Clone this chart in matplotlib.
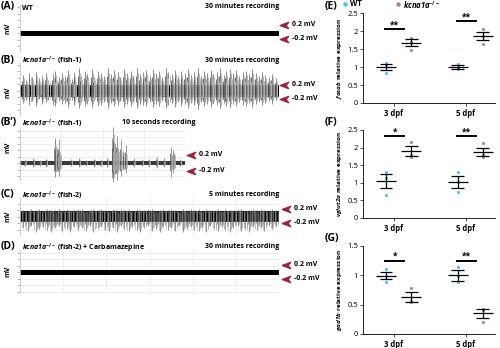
import matplotlib
matplotlib.use('Agg')
import matplotlib.pyplot as plt
from matplotlib.path import Path
from matplotlib.ticker import MultipleLocator

plt.rcParams['font.family'] = ['Open Sans', 'DejaVu Sans']
plt.rcParams['mathtext.fontset'] = 'custom'
plt.rcParams['mathtext.rm'] = 'Open Sans'
plt.rcParams['mathtext.it'] = 'Open Sans:italic'
plt.rcParams['mathtext.bf'] = 'Open Sans:bold'
plt.rcParams['mathtext.bfit'] = 'Open Sans:italic:bold'

# ---------------- qPCR data ----------------
days = ['3 dpf', '5 dpf']

fosab_wt = [[1.11, 1.05, 0.84], [1.08, 0.98, 0.95]]
fosab_mut = [[1.81, 1.70, 1.48], [2.06, 1.87, 1.65]]
fosab_wt_mean, fosab_wt_sem = [1.00, 1.00], [0.08, 0.06]
fosab_mut_mean, fosab_mut_sem = [1.67, 1.86], [0.095, 0.12]
fosab_sig = ['**', '**']
fosab_sig_y = [2.05, 2.27]

vglut_wt = [[1.32, 1.15, 0.66], [1.30, 1.03, 0.74]]
vglut_mut = [[2.16, 1.80, 1.72], [2.12, 1.78, 1.72]]
vglut_wt_mean, vglut_wt_sem = [1.04, 1.02], [0.20, 0.17]
vglut_mut_mean, vglut_mut_sem = [1.90, 1.87], [0.14, 0.12]
vglut_sig = ['*', '**']
vglut_sig_y = [2.32, 2.32]

gad_wt = [[1.10, 0.99, 0.89], [1.15, 0.99, 0.88]]
gad_mut = [[0.79, 0.56, 0.54], [0.42, 0.41, 0.21]]
gad_wt_mean, gad_wt_sem = [0.99, 1.00], [0.06, 0.09]
gad_mut_mean, gad_mut_sem = [0.63, 0.35], [0.08, 0.07]
gad_sig = ['*', '**']
gad_sig_y = [1.25, 1.25]

# ---------------- recording traces ----------------
# baseline noise band half-widths, mV
a_band = 0.05
b_band = 0.12
bp_band = 0.04
c_band = 0.10
d_band = 0.05

# B: 30 min, spike times (min) with up / down amplitudes (mV)
b_t = [0.3, 0.7, 1.1, 1.4, 1.9, 2.2, 2.6, 3.0, 3.3, 3.8,
       4.1, 4.5, 4.9, 5.2, 5.6, 6.0, 6.3, 6.8, 7.1, 7.5,
       7.8, 8.3, 8.6, 9.0, 9.4, 9.7, 10.2, 10.5, 10.9, 11.3,
       11.6, 12.0, 12.4, 12.8, 13.1, 13.5, 13.9, 14.3, 14.6, 15.0,
       15.4, 15.7, 16.1, 16.5, 16.9, 17.2, 17.6, 18.0, 18.3, 18.7,
       19.1, 19.5, 19.8, 20.2, 20.6, 21.0, 21.3, 21.7, 22.1, 22.4,
       22.8, 23.2, 23.6, 23.9, 24.3, 24.7, 25.0, 25.4, 25.8, 26.2,
       26.5, 26.9, 27.3, 27.7, 28.0, 28.4, 28.8, 29.2, 29.6]
b_up = [0.32, 0.22, 0.36, 0.28, 0.38, 0.25, 0.30, 0.35, 0.22, 0.33,
        0.40, 0.27, 0.36, 0.30, 0.42, 0.24, 0.38, 0.46, 0.30, 0.40,
        0.34, 0.44, 0.28, 0.40, 0.36, 0.30, 0.46, 0.33, 0.42, 0.38,
        0.27, 0.44, 0.36, 0.40, 0.30, 0.46, 0.34, 0.38, 0.42, 0.30,
        0.44, 0.36, 0.40, 0.28, 0.46, 0.38, 0.33, 0.42, 0.30, 0.40,
        0.36, 0.44, 0.32, 0.38, 0.46, 0.30, 0.40, 0.36, 0.42, 0.34,
        0.38, 0.46, 0.32, 0.40, 0.44, 0.36, 0.42, 0.30, 0.38, 0.40,
        0.34, 0.44, 0.36, 0.30, 0.38, 0.32, 0.28, 0.34, 0.26]
b_dn = [0.24, 0.18, 0.28, 0.20, 0.30, 0.16, 0.26, 0.22, 0.18, 0.28,
        0.30, 0.20, 0.26, 0.24, 0.32, 0.18, 0.28, 0.34, 0.22, 0.30,
        0.26, 0.32, 0.20, 0.30, 0.28, 0.22, 0.34, 0.24, 0.30, 0.28,
        0.20, 0.32, 0.26, 0.30, 0.22, 0.34, 0.26, 0.28, 0.30, 0.22,
        0.32, 0.26, 0.30, 0.20, 0.34, 0.28, 0.24, 0.32, 0.22, 0.30,
        0.26, 0.34, 0.24, 0.28, 0.36, 0.22, 0.30, 0.26, 0.32, 0.24,
        0.28, 0.34, 0.24, 0.30, 0.32, 0.26, 0.30, 0.22, 0.28, 0.30,
        0.24, 0.32, 0.26, 0.22, 0.28, 0.24, 0.20, 0.26, 0.18]

# B': 10 s, spike times (s) with up / down amplitudes (mV)
bp_t = [0.3, 0.8, 1.2, 1.6, 2.1, 2.15, 2.25, 2.35, 2.45, 3.1,
        3.6, 4.0, 4.5, 4.9, 5.3, 5.6, 5.65, 5.75, 5.85, 5.95,
        6.1, 6.25, 6.4, 6.9, 7.4, 7.8, 8.3, 8.7, 9.15, 9.25,
        9.35, 9.7]
bp_up = [0.08, 0.10, 0.07, 0.09, 0.50, 0.44, 0.30, 0.48, 0.20, 0.08,
         0.10, 0.07, 0.09, 0.08, 0.10, 0.50, 0.72, 0.40, 0.55, 0.30,
         0.46, 0.25, 0.36, 0.10, 0.08, 0.09, 0.12, 0.10, 0.32, 0.26,
         0.20, 0.08]
bp_dn = [0.06, 0.08, 0.06, 0.07, 0.28, 0.22, 0.16, 0.26, 0.12, 0.06,
         0.08, 0.06, 0.07, 0.06, 0.08, 0.30, 0.38, 0.22, 0.34, 0.18,
         0.26, 0.14, 0.20, 0.08, 0.06, 0.07, 0.09, 0.08, 0.28, 0.20,
         0.12, 0.06]

# C: 5 min, spike times (s) with up / down amplitudes (mV)
c_t = [4, 9, 13, 18, 22, 27, 31, 36, 40, 45,
       49, 54, 58, 63, 67, 72, 76, 81, 85, 90,
       94, 99, 103, 108, 112, 117, 121, 126, 130, 135,
       139, 144, 148, 153, 157, 162, 166, 171, 175, 180,
       184, 189, 193, 198, 202, 207, 211, 216, 220, 225,
       229, 234, 238, 243, 247, 252, 256, 261, 265, 270,
       274, 279, 283, 288, 292, 297]
c_up = [0.14, 0.12, 0.16, 0.13, 0.15, 0.12, 0.16, 0.14, 0.13, 0.15,
        0.12, 0.16, 0.14, 0.13, 0.15, 0.16, 0.12, 0.14, 0.15, 0.13,
        0.16, 0.14, 0.12, 0.15, 0.13, 0.16, 0.14, 0.15, 0.12, 0.16,
        0.14, 0.13, 0.15, 0.16, 0.12, 0.14, 0.15, 0.13, 0.16, 0.14,
        0.12, 0.15, 0.13, 0.16, 0.14, 0.15, 0.12, 0.16, 0.14, 0.13,
        0.15, 0.12, 0.16, 0.14, 0.13, 0.15, 0.16, 0.12, 0.14, 0.15,
        0.13, 0.16, 0.14, 0.12, 0.15, 0.13]
c_dn = [0.22, 0.28, 0.18, 0.30, 0.24, 0.20, 0.26, 0.30, 0.22, 0.18,
        0.28, 0.24, 0.30, 0.20, 0.26, 0.22, 0.28, 0.18, 0.30, 0.24,
        0.20, 0.26, 0.28, 0.22, 0.30, 0.18, 0.24, 0.28, 0.20, 0.26,
        0.30, 0.22, 0.18, 0.28, 0.24, 0.30, 0.20, 0.26, 0.22, 0.28,
        0.18, 0.30, 0.24, 0.20, 0.26, 0.28, 0.22, 0.30, 0.18, 0.24,
        0.28, 0.20, 0.26, 0.30, 0.22, 0.18, 0.28, 0.24, 0.30, 0.20,
        0.26, 0.22, 0.28, 0.18, 0.24, 0.20]

WT_C = '#4fc1ee'
MUT_C = '#a8839f'
ARROW_C = '#a3203d'

W, H = 500, 348
fig = plt.figure(figsize=(5, 3.48), dpi=100)


def px_axes(x0, y0, x1, y1):
    return fig.add_axes([x0 / W, 1 - y1 / H, (x1 - x0) / W, (y1 - y0) / H])


PPU = 50.0  # pixels per mV on the traces


def trace_axes(x0, x1, top, bottom, base, xmax, grid_step=None):
    ax = px_axes(x0, top, x1, bottom)
    ax.set_xlim(0, xmax)
    ax.set_ylim(-(bottom - base) / PPU, (base - top) / PPU)
    for s in ['top', 'right', 'bottom']:
        ax.spines[s].set_visible(False)
    ax.spines['left'].set_color('#c8c8c8')
    ax.spines['left'].set_linewidth(0.6)
    ax.yaxis.set_major_locator(MultipleLocator(0.13))
    ax.tick_params(axis='y', length=2, width=0.5, color='#999999', labelleft=False)
    ax.tick_params(axis='x', length=0, labelbottom=False)
    if grid_step:
        ax.xaxis.set_major_locator(MultipleLocator(grid_step))
        ax.grid(True, color='#ececec', linewidth=0.6)
        ax.set_axisbelow(True)
    else:
        ax.set_xticks([])
    return ax


def spikes(ax, t, up, dn, shifts, scales, greys, lw, clip=True):
    # each recorded event drawn as a small cluster of deflections
    for sh, sc, g in zip(shifts, scales, greys):
        ax.vlines([v + sh for v in t], [-d * sc for d in dn], [u * sc for u in up],
                  color=g, lw=lw, clip_on=clip)


# (A) WT
axA = trace_axes(20, 279, 5, 52, 33, 30)
axA.fill_between([0, 30], -a_band, a_band, color='black', lw=0)

# (B) kcna1a -/- fish-1, 30 min
axB = trace_axes(20, 279, 63, 116, 91, 30)
spikes(axB, b_t, b_up, b_dn, [0.0, 0.12, -0.1, 0.22], [1.0, 0.8, 0.65, 0.55],
       ['#7a7a7a', '#a8a8a8', '#5a5a5a', '#c0c0c0'], 0.6)
axB.fill_between([0, 30], -b_band, b_band, color='#333333', lw=0)
axB.fill_between([0, 30], -b_band * 0.7, b_band * 0.7, color='black', lw=0)

# (B') 10 s zoom
axBp = trace_axes(20, 185, 128, 180, 163, 10, grid_step=2.5)
spikes(axBp, bp_t, bp_up, bp_dn, [0.0, 0.03, -0.03, 0.06], [1.0, 0.8, 0.6, 0.5],
       ['#707070', '#a0a0a0', '#505050', '#b8b8b8'], 0.5, clip=False)
axBp.fill_between([0, 10], -bp_band, bp_band, color='#3a3a3a', lw=0)

# (C) kcna1a -/- fish-2, 5 min
axC = trace_axes(20, 279, 198, 236, 217, 300, grid_step=50)
spikes(axC, c_t, c_up, c_dn, [0, 1.5, 3.0, -1.5], [1.0, 0.8, 0.6, 0.9],
       ['#5a5a5a', '#8a8a8a', '#6e6e6e', '#a5a5a5'], 0.45)
axC.fill_between([0, 300], -c_band * 1.1, c_band * 1.1, color='#222222', lw=0)
axC.fill_between([0, 300], -c_band * 0.8, c_band * 0.8, color='black', lw=0)

# (D) + carbamazepine, 30 min
axD = trace_axes(20, 279, 250, 293, 272, 30, grid_step=5)
axD.fill_between([0, 30], -d_band, d_band, color='black', lw=0)

# ---------------- qPCR panels ----------------
OFF_WT, OFF_MUT = -0.11, 0.24


def dot_panel(box, wt, mut, wt_m, wt_s, mut_m, mut_s, sig, sig_y, ymax, ylabel):
    ax = px_axes(*box)
    ax.set_xlim(0.57, 2.41)
    ax.set_ylim(0, ymax)
    for s in ['top', 'right']:
        ax.spines[s].set_visible(False)
    for s in ['left', 'bottom']:
        ax.spines[s].set_linewidth(0.6)
    ax.yaxis.set_major_locator(MultipleLocator(0.5))
    ax.yaxis.set_major_formatter(plt.FuncFormatter(lambda v, p: f'{v:g}'))
    ax.set_xticks([1, 2])
    ax.set_xticklabels(days, fontsize=5.5, fontweight='bold')
    ax.tick_params(axis='y', labelsize=5.5, length=2, width=0.5, pad=1.5)
    ax.tick_params(axis='x', length=2, width=0.5, pad=2)
    ax.set_ylabel(ylabel, fontsize=4.6, fontweight='bold', labelpad=2.5)
    for i in range(2):
        c = i + 1
        for pts, off, col, m, s in [(wt[i], OFF_WT, WT_C, wt_m[i], wt_s[i]),
                                    (mut[i], OFF_MUT, MUT_C, mut_m[i], mut_s[i])]:
            x = c + off
            ax.scatter([x] * len(pts), pts, s=5, color=col, zorder=3, lw=0)
            ax.hlines(m, x - 0.14, x + 0.14, color='black', lw=0.9, zorder=4)
            ax.hlines([m - s, m + s], x - 0.09, x + 0.09, color='black', lw=0.9, zorder=4)
            ax.vlines(x, m - s, m + s, color='black', lw=0.9, zorder=4)
        ax.hlines(sig_y[i], c - 0.14, c + 0.16, color='black', lw=1.4)
        ax.text(c + 0.01, sig_y[i], sig[i], ha='center', va='bottom', fontsize=6,
                fontweight='bold')
    return ax


dot_panel((363, 13, 495, 103), fosab_wt, fosab_mut, fosab_wt_mean, fosab_wt_sem,
          fosab_mut_mean, fosab_mut_sem, fosab_sig, fosab_sig_y, 2.5,
          r'$\mathbfit{fosab}$ relative expression')
dot_panel((363, 130, 495, 218), vglut_wt, vglut_mut, vglut_wt_mean, vglut_wt_sem,
          vglut_mut_mean, vglut_mut_sem, vglut_sig, vglut_sig_y, 2.5,
          r'$\mathbfit{vglut2a}$ relative expression')
dot_panel((363, 246, 495, 334), gad_wt, gad_mut, gad_wt_mean, gad_wt_sem,
          gad_mut_mean, gad_mut_sem, gad_sig, gad_sig_y, 1.5,
          r'$\mathbfit{gad1b}$ relative expression')

# ---------------- overlay for labels and arrows ----------------
ov = fig.add_axes([0, 0, 1, 1], zorder=10)
ov.set_xlim(0, W)
ov.set_ylim(H, 0)
ov.axis('off')
ov.patch.set_alpha(0)

KO = r'$\mathbfit{kcna1a}^{\mathbf{-/-}}$'
lab = dict(fontsize=7.5, fontweight='bold', va='center', ha='left')
ttl = dict(fontsize=5, fontweight='bold', va='center')

panels = [
    ('(A)', 'WT', '30 minutes recording', 7, 'right', 279),
    ('(B)', KO + ' (fish-1)', '30 minutes recording', 60, 'right', 279),
    ('(B\u2019)', KO + ' (fish-1)', '10 seconds recording', 123, 'left', 122),
    ('(C)', KO + ' (fish-2)', '5 minutes recording', 195, 'right', 279),
    ('(D)', KO + ' (fish-2) + Carbamazepine', '30 minutes recording', 247, 'right', 279),
]
for letter, name, rec, y, ha, xr in panels:
    ov.text(1, y, letter, **lab)
    ov.text(22, y + 1, name, ha='left', **ttl)
    ov.text(xr, y, rec, ha=ha, **ttl)

for y in [28, 92, 147, 216, 271]:
    ov.text(8, y, 'mV', rotation=90, ha='center', va='center', fontsize=5,
            fontweight='bold')

chevron = Path([(-1, 0), (1, 0.75), (0.35, 0), (1, -0.75), (-1, 0)],
               [Path.MOVETO, Path.LINETO, Path.LINETO, Path.LINETO, Path.CLOSEPOLY])
arrows = [(284, 25, 39), (284, 85, 99), (191, 155, 171), (286, 209, 223), (286, 265, 279)]
for x, y1, y2 in arrows:
    ov.plot([x, x], [y1, y2], ls='none', marker=chevron, ms=6, color=ARROW_C)
    ov.text(x + 8, y1, '0.2 mV', fontsize=5, fontweight='bold', va='center')
    ov.text(x + 8, y2, '-0.2 mV', fontsize=5, fontweight='bold', va='center')

for letter, y in [('(E)', 6), ('(F)', 122), ('(G)', 238)]:
    ov.text(325, y, letter, **lab)

# legend of E
ov.plot([345], [4], 'o', ms=2.2, color=WT_C)
ov.text(350, 4, 'WT', fontsize=5.5, fontweight='bold', va='center')
ov.plot([398], [4], 'o', ms=2.2, color=MUT_C)
ov.text(403, 4, KO, fontsize=5.5, va='center')

fig.savefig('out.png', dpi=100)
